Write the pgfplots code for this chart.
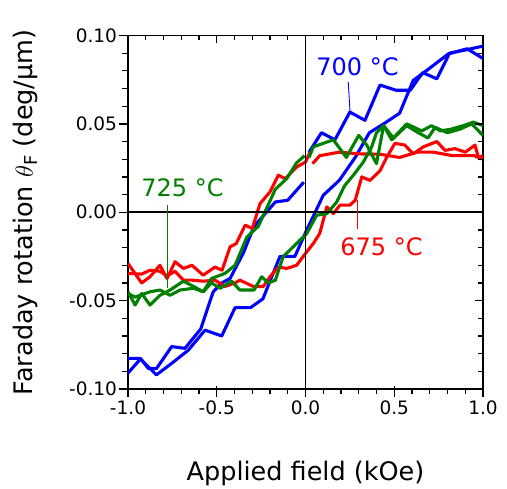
\documentclass[border=0pt]{standalone}
\usepackage{pgfplots}
\pgfplotsset{compat=1.18}
\usepackage{fontspec}
\setmainfont{DejaVu Sans}

\definecolor{cblue}{RGB}{0,0,255}
\definecolor{cgreen}{RGB}{0,128,0}
\definecolor{cred}{RGB}{255,0,0}

\pgfplotsset{
  hyst/.style={line width=3.1pt, line join=round, mark=none},
}

\begin{document}
\begin{tikzpicture}
% room round the axis, as in the reference
\path (-128bp,-100bp) rectangle (379bp,389bp);
\begin{axis}[
  width=355bp, height=353.5bp, scale only axis,
  xmin=-1, xmax=1, ymin=-0.1, ymax=0.1,
  xtick={-1,-0.5,0,0.5,1}, ytick={-0.1,-0.05,0,0.05,0.1},
  major tick length=0pt, minor tick num=0,
  axis line style={line width=1.8pt},
  xticklabels={-1.0,-0.5,0.0,0.5,1.0},
  yticklabels={-0.10,-0.05,0.00,0.05,0.10},
  ticklabel style={font=\fontsize{18.5bp}{18.5bp}\selectfont},
  yticklabel style={xshift=-7.5bp},
  xticklabel style={yshift=-8bp},
  label style={font=\fontsize{25.5bp}{25.5bp}\selectfont},
  xlabel={Applied field (kOe)},
  ylabel={Faraday rotation $\theta$\textsubscript{F} (deg/µm)},
  xlabel style={at={(axis description cs:0.5,-0.2575)}, anchor=base},
  ylabel style={at={(axis description cs:-0.268,0.5)}, anchor=base},
]

% 700 C
\addplot[hyst, cblue] coordinates {
  (-1.0,-0.0827) (-0.93,-0.0827) (-0.886,-0.0883) (-0.84,-0.0885) (-0.754,-0.076)
  (-0.679,-0.077) (-0.59,-0.066) (-0.52,-0.045) (-0.472,-0.040) (-0.425,-0.0375)
  (-0.35,-0.023) (-0.29,-0.008) (-0.17,0.0058) (-0.10,0.0068) (-0.01,0.017)
};
\addplot[hyst, cblue] coordinates {
  (0.02,0.034) (0.09,0.045) (0.166,0.041) (0.25,0.0567) (0.335,0.052) (0.42,0.072)
  (0.51,0.069) (0.59,0.069) (0.66,0.079) (0.74,0.0755) (0.81,0.0897) (0.91,0.0925)
  (1.0,0.087)
};
\addplot[hyst, cblue] coordinates {
  (-1.0,-0.091) (-0.93,-0.083) (-0.84,-0.092) (-0.754,-0.0855) (-0.66,-0.078)
  (-0.566,-0.0667) (-0.472,-0.070) (-0.397,-0.054) (-0.31,-0.054) (-0.24,-0.049)
  (-0.144,-0.025) (-0.06,-0.025) (0.007,-0.010) (0.10,0.0096) (0.19,0.018)
  (0.28,0.031) (0.36,0.045) (0.44,0.050) (0.53,0.056) (0.607,0.0746) (0.68,0.080)
  (0.81,0.090) (0.91,0.092) (1.0,0.094)
};

% 675 C
\addplot[hyst, cred] coordinates {
  (-1.0,-0.029) (-0.923,-0.040) (-0.876,-0.0365) (-0.82,-0.030) (-0.78,-0.0375)
  (-0.735,-0.028) (-0.688,-0.0318) (-0.64,-0.030) (-0.576,-0.0356) (-0.51,-0.031)
  (-0.47,-0.0328) (-0.425,-0.0196) (-0.39,-0.0177) (-0.34,-0.0073) (-0.30,-0.0092)
  (-0.256,0.0049) (-0.20,0.0115) (-0.153,0.021) (-0.115,0.019) (-0.05,0.0256)
  (0.0,0.0284) (0.025,0.034)
};
\addplot[hyst, cred] coordinates {
  (0.04,0.0275) (0.08,0.032) (0.19,0.034) (0.307,0.033) (0.42,0.0328) (0.53,0.031)
  (0.63,0.034) (0.72,0.034) (0.83,0.032) (0.95,0.032) (1.0,0.030)
};
\addplot[hyst, cred] coordinates {
  (-1.0,-0.0346) (-0.923,-0.035) (-0.876,-0.0328) (-0.82,-0.0334) (-0.78,-0.036)
  (-0.735,-0.0334) (-0.688,-0.0384) (-0.64,-0.0384) (-0.576,-0.039) (-0.51,-0.0384)
  (-0.454,-0.042) (-0.397,-0.040) (-0.37,-0.0384) (-0.294,-0.042) (-0.238,-0.042)
  (-0.2,-0.0365) (-0.153,-0.031) (-0.106,-0.0318) (-0.05,-0.030) (0.0,-0.0233)
  (0.044,-0.0177) (0.08,-0.012) (0.12,0.003) (0.157,-0.0008) (0.194,0.004)
  (0.25,0.004) (0.28,0.0068) (0.317,0.020) (0.363,0.018) (0.42,0.0235) (0.457,0.031)
  (0.504,0.039) (0.56,0.038) (0.607,0.033) (0.664,0.037) (0.74,0.040) (0.786,0.035)
  (0.842,0.036) (0.90,0.034) (0.955,0.038) (0.974,0.031) (1.0,0.032)
};

% 725 C
\addplot[hyst, cgreen] coordinates {
  (-1.0,-0.045) (-0.96,-0.0525) (-0.923,-0.046) (-0.876,-0.0525) (-0.82,-0.047)
  (-0.763,-0.044) (-0.688,-0.039) (-0.63,-0.042) (-0.576,-0.045) (-0.53,-0.0375)
  (-0.454,-0.0346) (-0.397,-0.030) (-0.33,-0.014) (-0.266,-0.008) (-0.17,0.013)
  (-0.106,0.019) (-0.05,0.028) (-0.005,0.032)
};
\addplot[hyst, cgreen] coordinates {
  (0.02,0.031) (0.044,0.037) (0.157,0.041) (0.23,0.031) (0.30,0.0435) (0.345,0.038)
  (0.40,0.0275) (0.44,0.049) (0.495,0.042) (0.57,0.050) (0.655,0.046) (0.71,0.049)
  (0.76,0.046) (0.82,0.047) (0.89,0.049) (0.945,0.051) (1.0,0.049)
};
\addplot[hyst, cgreen] coordinates {
  (-1.0,-0.046) (-0.96,-0.048) (-0.876,-0.045) (-0.82,-0.044) (-0.763,-0.047)
  (-0.707,-0.044) (-0.63,-0.043) (-0.576,-0.045) (-0.53,-0.040) (-0.48,-0.043)
  (-0.416,-0.039) (-0.37,-0.044) (-0.29,-0.044) (-0.247,-0.0365) (-0.21,-0.040)
  (-0.17,-0.0385) (-0.125,-0.025) (-0.05,-0.0177) (0.007,-0.012) (0.063,-0.0017)
  (0.12,-0.0008) (0.176,0.0058) (0.22,0.015) (0.27,0.021) (0.326,0.0284)
  (0.373,0.037) (0.40,0.045) (0.44,0.049) (0.486,0.041) (0.57,0.049) (0.635,0.045)
  (0.69,0.042) (0.73,0.048) (0.80,0.045) (0.87,0.047) (0.936,0.050) (1.0,0.0435)
};

% zero lines
\draw[black, line width=1.8pt] (axis cs:-1,0) -- (axis cs:1,0);
\draw[black, line width=1.8pt] (axis cs:0,-0.1) -- (axis cs:0,0.1);

% labels
\draw[cblue, line width=0.9pt] (axis cs:0.241,0.0736) -- (axis cs:0.251,0.0567);
\node[text=cblue, inner sep=0pt, font=\fontsize{24bp}{24bp}\selectfont]
  at (axis cs:0.293,0.0825) {700 °C};
\draw[cgreen, line width=0.9pt] (axis cs:-0.775,0.004) -- (axis cs:-0.775,-0.043);
\node[text=cgreen, inner sep=0pt, font=\fontsize{24bp}{24bp}\selectfont]
  at (axis cs:-0.693,0.0141) {725 °C};
\draw[cred, line width=0.9pt] (axis cs:0.292,0.0068) -- (axis cs:0.292,-0.0096);
\node[text=cred, inner sep=0pt, font=\fontsize{24bp}{24bp}\selectfont]
  at (axis cs:0.428,-0.0198) {675 °C};
\end{axis}

% ticks: out on the left and bottom, mirrored inwards on the top and right
\foreach \k in {0,...,20} {
  \pgfmathsetmacro{\xx}{355*\k/20}
  \pgfmathsetmacro{\yy}{353.5*\k/20}
  \pgfmathsetmacro{\tl}{ifthenelse(mod(\k,5)==0,8,5)}
  \pgfmathsetmacro{\ti}{ifthenelse(mod(\k,5)==0,3,0)}
  \draw[line width=1.3pt] (\xx bp,\ti bp) -- (\xx bp,-\tl bp);
  \draw[line width=1.3pt] (\xx bp,353.5bp) -- (\xx bp,353.5bp-\tl bp);
  \draw[line width=1.3pt] (0bp,\yy bp) -- (-\tl bp-1bp,\yy bp);
  \draw[line width=1.3pt] (355bp,\yy bp) -- (355bp-\tl bp,\yy bp);
}
\end{tikzpicture}
\end{document}
